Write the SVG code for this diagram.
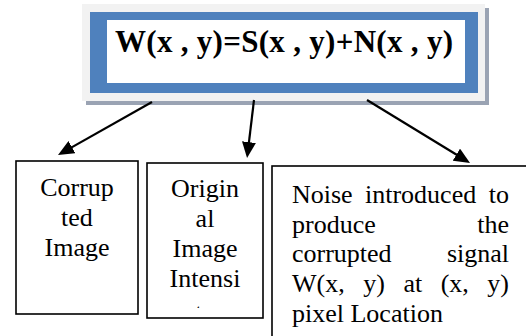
<svg xmlns="http://www.w3.org/2000/svg" width="526" height="336" viewBox="0 0 526 336">
  <style>
    .serif { font-family: "Liberation Serif", "Times New Roman", Times, "DejaVu Serif", serif; }
    .box { fill: #ffffff; stroke: #000000; stroke-width: 1.6; }
    .txt { font-size: 26px; font-weight: normal; font-style: normal; fill: #000000; }
    .mid { text-anchor: middle; }
    .end { text-anchor: end; }
    .eq { font-size: 31px; font-weight: bold; fill: #000000; text-anchor: middle; }
    .conn { stroke: #000000; stroke-width: 2.2; fill: none; marker-end: url(#head); }
  </style>
  <defs>
    <marker id="head" viewBox="0 0 16 14" markerWidth="16" markerHeight="14" markerUnits="userSpaceOnUse" refX="8" refY="7" orient="auto">
      <path d="M0,0 L16,7 L0,14 Z" fill="#000000"/>
    </marker>
    <!-- only the top of the wrapped syllable stays visible -->
    <clipPath id="cut">
      <rect x="147" y="163" width="116" height="145"/>
    </clipPath>
  </defs>

  <rect width="526" height="336" fill="#ffffff"/>

  <g class="serif">
    <!-- equation banner -->
    <g id="equation">
      <rect x="86" y="8" width="403" height="97" fill="#9aa3b3"/>
      <rect x="82" y="4" width="403" height="97" fill="#f2f2f2"/>
      <rect x="90" y="12" width="388" height="81" fill="#4f81bd"/>
      <rect x="107" y="20" width="358" height="63" fill="#ffffff"/>
      <text class="eq" x="284" y="52" textLength="338" lengthAdjust="spacing">W(x , y)=S(x , y)+N(x , y)</text>
    </g>

    <!-- connectors -->
    <g id="connectors">
      <line class="conn" x1="152" y1="102" x2="65" y2="151.1"/>
      <line class="conn" x1="254" y1="100" x2="248" y2="150.1"/>
      <line class="conn" x1="367" y1="100" x2="463.2" y2="158.8"/>
    </g>

    <g id="corrupted">
      <rect class="box" x="16" y="161" width="122" height="153"/>
      <text class="txt mid" x="77" y="196">Corrup</text>
      <text class="txt mid" x="77" y="226">ted</text>
      <text class="txt mid" x="77" y="256">Image</text>
    </g>

    <g id="original">
      <rect class="box" x="147" y="163" width="116" height="155"/>
      <text class="txt mid" x="205" y="197">Origin</text>
      <text class="txt mid" x="205" y="227">al</text>
      <text class="txt mid" x="205" y="257">Image</text>
      <text class="txt mid" x="205" y="287">Intensi</text>
      <text class="txt mid" x="205" y="321" clip-path="url(#cut)">ty</text>
    </g>

    <g id="noise">
      <rect class="box" x="272" y="166" width="270" height="190"/>
      <text class="txt" x="292" y="203">Noise</text>
      <text class="txt" x="365" y="203">introduced</text>
      <text class="txt end" x="509" y="203">to</text>
      <text class="txt" x="292" y="232.7">produce</text>
      <text class="txt end" x="509" y="232.7">the</text>
      <text class="txt" x="292" y="262.4">corrupted</text>
      <text class="txt end" x="509" y="262.4">signal</text>
      <text class="txt" x="292" y="292">W(x,</text>
      <text class="txt" x="363.2" y="292">y)</text>
      <text class="txt" x="403.4" y="292">at</text>
      <text class="txt" x="440.7" y="292">(x,</text>
      <text class="txt end" x="509" y="292">y)</text>
      <text class="txt" x="292" y="321.8">pixel Location</text>
    </g>
  </g>
</svg>
